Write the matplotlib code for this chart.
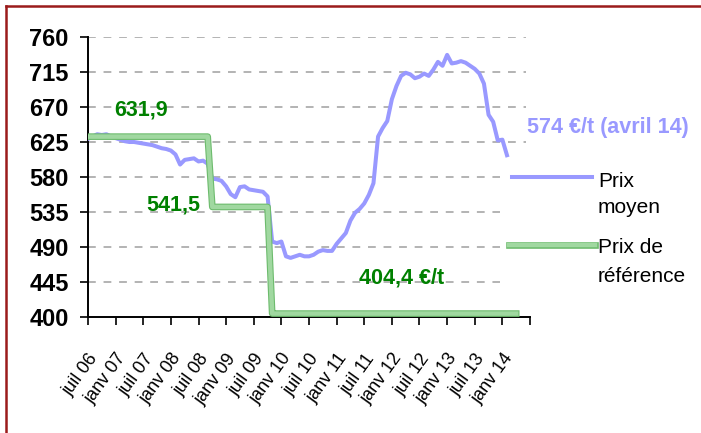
import matplotlib
matplotlib.use("Agg")
import matplotlib.pyplot as plt
import matplotlib.patheffects as pe
import matplotlib.transforms as mtransforms
from matplotlib.lines import Line2D
from matplotlib.patches import Rectangle
import numpy as np

plt.rcParams['font.family'] = ['Liberation Sans', 'DejaVu Sans']

# Monthly data, month 0 = juillet 2006
prix_moyen = [629, 632, 635, 634, 635, 632, 630, 628, 626, 625,
              625, 624, 623, 622, 621, 619, 617, 616, 614, 609,
              596, 602, 603, 604, 600, 601, 597, 578, 577, 575,
              568, 558, 554, 567, 568, 564, 563, 562, 561, 555,
              497, 495, 497, 478, 476, 478, 480, 478, 478, 480,
              484, 486, 485, 485, 494, 501, 508, 524, 534, 539,
              546, 557, 572, 632, 643, 652, 680, 697, 710, 714,
              712, 707, 709, 713, 710, 718, 728, 723, 737, 726,
              727, 729, 727, 723, 719, 713, 700, 660, 651, 627,
              628, 608]
prix_ref = [631.9] * 27 + [541.5] * 13 + [404.4] * 54

tick_labels = ["juil 06", "janv 07", "juil 07", "janv 08", "juil 08", "janv 09",
               "juil 09", "janv 10", "juil 10", "janv 11", "juil 11", "janv 12",
               "juil 12", "janv 13", "juil 13", "janv 14"]
y_ticks = [400, 445, 490, 535, 580, 625, 670, 715, 760]

W, H = 701, 433
fig = plt.figure(figsize=(W / 100, H / 100), dpi=100)
ax = fig.add_axes([88 / W, 1 - 317 / H, (530 - 88) / W, (317 - 37) / H])

def fx(x):
    return x / W

def fy(y):
    return 1 - y / H

months_m = np.arange(len(prix_moyen))
months_r = np.arange(len(prix_ref))

ax.plot(months_m, prix_moyen, color='#9999ff', lw=2.9, zorder=3, solid_joinstyle='round')
ax.plot(months_r, prix_ref, color='#a0d8a0', lw=3.2, zorder=4,
        path_effects=[pe.Stroke(linewidth=4.8, foreground='#6dbb6d'), pe.Normal()])

ax.set_xlim(0, 96)
ax.set_ylim(400, 760)
ax.set_yticks(y_ticks)
ax.set_yticklabels([str(v) for v in y_ticks], fontsize=17, fontweight='bold')
ax.set_xticks(np.arange(0, 97, 6))
ax.set_xticklabels(tick_labels + [""], fontsize=13, rotation=54,
                   ha='right', va='top', rotation_mode='anchor')
shift = mtransforms.ScaledTranslation(-3 / 100, 0, fig.dpi_scale_trans)
for lab in ax.get_xticklabels():
    lab.set_transform(lab.get_transform() + shift)
ax.tick_params(axis='y', length=6, width=1.2, pad=8)
ax.tick_params(axis='x', length=6, width=1.2, pad=18)

for v in y_ticks[1:]:
    ax.axhline(v, color='#b3b3b3', lw=1.4, ls=(0, (4, 4)), zorder=1, xmax=0.99)

for s in ['top', 'right']:
    ax.spines[s].set_visible(False)
for s in ['left', 'bottom']:
    ax.spines[s].set_linewidth(1.4)

ax.text(11.5, 666, "631,9", color='#008000', fontsize=15.5, fontweight='bold',
        ha='center', va='center')
ax.text(18.6, 544, "541,5", color='#008000', fontsize=15.5, fontweight='bold',
        ha='center', va='center')
ax.text(68, 450, "404,4 €/t", color='#008000', fontsize=15.5, fontweight='bold',
        ha='center', va='center')
ax.text(112.9, 644, "574 €/t (avril 14)", color='#9999ff', fontsize=15.5,
        fontweight='bold', ha='center', va='center', clip_on=False)

# legend (manual, overlapping plot area like the original)
fig.add_artist(Rectangle((fx(500), fy(300)), fx(701) - fx(500), fy(165) - fy(300),
                         transform=fig.transFigure, facecolor='white',
                         edgecolor='none', zorder=5))
fig.add_artist(Line2D([fx(512), fx(592)], [fy(177), fy(177)], transform=fig.transFigure,
                      color='#9999ff', lw=2.9, zorder=6))
fig.add_artist(Line2D([fx(509), fx(595)], [fy(245), fy(245)], transform=fig.transFigure,
                      color='#a0d8a0', lw=3.2, zorder=6,
                      path_effects=[pe.Stroke(linewidth=4.8, foreground='#6dbb6d'), pe.Normal()]))
for txt, yb in [("Prix", 186.7), ("moyen", 213.3), ("Prix de", 253.3), ("référence", 281.7)]:
    fig.text(fx(598), fy(yb), txt, fontsize=15, va='baseline', ha='left', zorder=6)

# dark red frame
fig.add_artist(Line2D([fx(6), fx(6)], [fy(6), fy(433)], transform=fig.transFigure,
                      color='#9b1b1b', lw=1.8, zorder=7))
fig.add_artist(Line2D([fx(6), fx(701)], [fy(6), fy(6)], transform=fig.transFigure,
                      color='#9b1b1b', lw=1.8, zorder=7))

fig.savefig("out.png", dpi=100)
